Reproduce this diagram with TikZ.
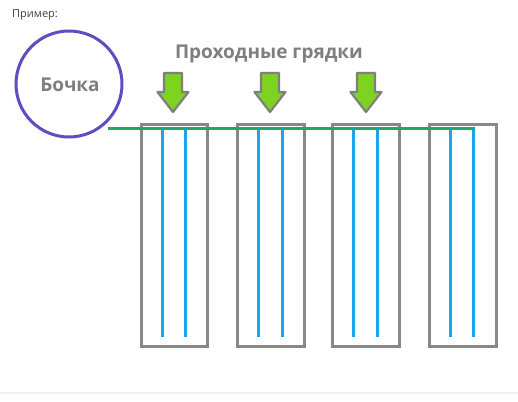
\documentclass[tikz,border=0pt]{standalone}
\usepackage{fontspec}
\setmainfont{Open Sans}
\begin{document}
\begin{tikzpicture}[x=1pt,y=-1pt,
  bed/.style={draw=bedgray,line width=3pt},
  pipe/.style={draw=pipeblue,line width=3pt},
  hose/.style={draw=hosegreen,line width=3pt},
  garrow/.style={draw=arrgray,fill=arrgreen,line width=2.2pt,line join=round},
  lbl/.style={text=labelgray,font=\bfseries\fontsize{19}{22}\selectfont,inner sep=0pt}
]
\definecolor{bedgray}{HTML}{888888}
\definecolor{pipeblue}{HTML}{1AA6EE}
\definecolor{hosegreen}{HTML}{20A86C}
\definecolor{arrgray}{HTML}{7F7F7F}
\definecolor{arrgreen}{HTML}{7ED321}
\definecolor{labelgray}{HTML}{7F7F7F}
\definecolor{barrel}{HTML}{5A4EC2}
\useasboundingbox (0,0) rectangle (518,401);
\fill[white] (0,0) rectangle (518,401);
\draw[draw=black!6,line width=1.2pt] (0,393) -- (518,393);
\node[anchor=west,text=black!75,font=\fontsize{11}{13}\selectfont,inner sep=0pt] (ex) at (12,15) {Пример:};
% barrel
\node[circle,draw=barrel,line width=3pt,minimum size=106pt,inner sep=0pt] (barrel) at (69,84) {};
\node[lbl] (blbl) at (70,85) {Бочка};
\node[lbl] (title) at (269,54) {Проходные грядки};
% beds
\foreach \i/\l/\r/\pa/\pb in {1/141/207/162/185, 2/237/304/258/282, 3/332/399/353/377, 4/429/496/450/473}{
  \coordinate (b\i tl) at (\l,124);
  \coordinate (b\i br) at (\r,346);
  \draw[bed] (b\i tl) rectangle (b\i br);
  \coordinate (p\i a) at (\pa,129);
  \coordinate (p\i ae) at (\pa,337);
  \coordinate (p\i b) at (\pb,129);
  \coordinate (p\i be) at (\pb,337);
  \draw[pipe] (p\i a) -- (p\i ae);
  \draw[pipe] (p\i b) -- (p\i be);
}
% hose
\coordinate (hs) at (108,128.5);
\coordinate (he) at (474.5,128.5);
\draw[hose] (hs) -- (he);
% arrows
\foreach \j/\cx in {1/173,2/270,3/366}{
  \draw[garrow] (\cx-9,73) -- (\cx+9,73) -- (\cx+9,92) -- (\cx+15.5,92) -- (\cx,112) -- (\cx-15.5,92) -- (\cx-9,92) -- cycle;
}
\end{tikzpicture}
\end{document}
